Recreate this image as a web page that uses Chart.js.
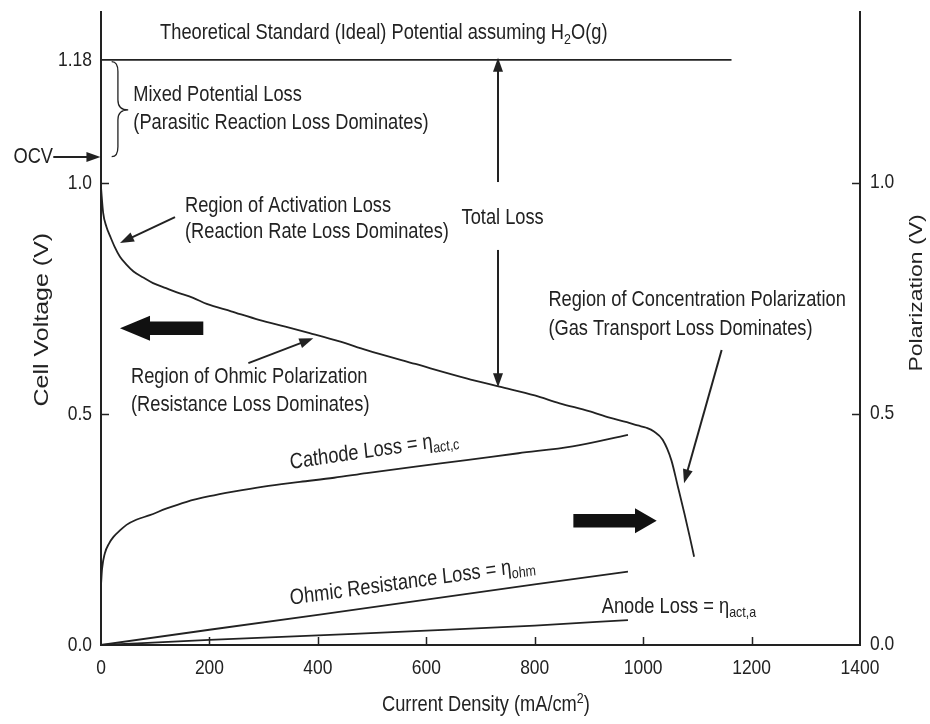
<!DOCTYPE html>
<html>
<head>
<meta charset="utf-8">
<script src="https://cdn.jsdelivr.net/npm/chart.js@4.4.1/dist/chart.umd.min.js"></script>
<style>
html, body { margin: 0; padding: 0; background: #ffffff; }
canvas { display: block; }
</style>
</head>
<body>
<canvas id="c" width="930" height="724" style="width:930px;height:724px"></canvas>
<script>
// ---------------- data ----------------
const currentDensity = [0, 4, 10, 17, 25, 35, 47, 60, 78, 96, 120, 140, 170, 195, 240, 293, 340, 385, 440, 490, 580, 674, 735, 800, 846, 900, 938, 970, 990, 1006, 1020, 1036, 1052, 1064, 1076, 1086, 1094];
const cellVoltage    = [0.99, 0.935, 0.905, 0.884, 0.862, 0.840, 0.823, 0.808, 0.795, 0.783, 0.772, 0.763, 0.751, 0.738, 0.722, 0.703, 0.689, 0.675, 0.657, 0.638, 0.608, 0.577, 0.559, 0.540, 0.523, 0.506, 0.492, 0.482, 0.475, 0.470, 0.462, 0.444, 0.400, 0.343, 0.285, 0.234, 0.191];

const idealCurrent   = [0, 1163];
const idealPotential = [1.18, 1.18];

const cathodeCurrent = [0, 2, 7, 15, 23, 35, 47, 65, 90, 120, 158, 200, 244, 300, 367, 430, 490, 580, 674, 770, 870, 972];
const cathodeLoss    = [0.13, 0.165, 0.198, 0.220, 0.234, 0.248, 0.260, 0.271, 0.281, 0.295, 0.310, 0.322, 0.332, 0.343, 0.353, 0.362, 0.372, 0.386, 0.400, 0.415, 0.430, 0.455];

const ohmicCurrent   = [0, 200, 400, 600, 800, 972];
const ohmicLoss      = [0, 0.033, 0.065, 0.098, 0.131, 0.159];

const anodeCurrent   = [0, 200, 400, 600, 800, 972];
const anodeLoss      = [0, 0.011, 0.021, 0.031, 0.042, 0.054];

const xTickValues            = [0, 200, 400, 600, 800, 1000, 1200, 1400];
const voltageTickValues      = [0, 0.5, 1.0, 1.18];
const polarizationTickValues = [0, 0.5, 1.0];

// the schematic's voltage axis is drawn stretched above 1.0 V
const voltageBreak   = 1.0;
const voltageStretch = 1.478;

// ---------------- styles ----------------
const INK = '#222222';
const FAMILY = '"Liberation Sans", Arial, sans-serif';
const COND = 0.83;          // the figure's lettering is horizontally condensed
const NOTE_SIZE = 22;
const TICK_SIZE = 21;
const fontStr = (size) => `${size}px ${FAMILY}`;

const fmtX  = v => String(v);
const fmtV  = v => (v === 1.18 ? '1.18' : v.toFixed(1));
const fmtP  = v => v.toFixed(1);

// ---------------- custom scale: linear with a stretched top part ----------------
class StretchedLinearScale extends Chart.LinearScale {
  toLin(v) { return v <= voltageBreak ? v : voltageBreak + (v - voltageBreak) * voltageStretch; }
  fromLin(l) { return l <= voltageBreak ? l : voltageBreak + (l - voltageBreak) / voltageStretch; }
  getPixelForValue(value) {
    if (value === null || value === undefined || isNaN(value)) return NaN;
    const a = this.toLin(this.min), b = this.toLin(this.max);
    return this.getPixelForDecimal((this.toLin(value) - a) / (b - a));
  }
  getValueForPixel(pixel) {
    const a = this.toLin(this.min), b = this.toLin(this.max);
    return this.fromLin(a + this.getDecimalForPixel(pixel) * (b - a));
  }
}
StretchedLinearScale.id = 'stretchedLinear';
StretchedLinearScale.defaults = Chart.LinearScale.defaults;
Chart.register(StretchedLinearScale);

// ---------------- annotations (in x / polarization-axis units) ----------------
const textNotes = [
  { segs: [{ t: 'Theoretical Standard (Ideal) Potential assuming H' }, { t: '2', sub: true }, { t: 'O(g)' }], x: 109, y: 1.324 },
  { segs: [{ t: 'Mixed Potential Loss' }], x: 59.6, y: 1.190 },
  { segs: [{ t: '(Parasitic Reaction Loss Dominates)' }], x: 59.6, y: 1.129 },
  { segs: [{ t: 'OCV' }], x: -88.5, y: 1.056, align: 'right' },
  { segs: [{ t: 'Region of Activation Loss' }], x: 155, y: 0.950 },
  { segs: [{ t: '(Reaction Rate Loss Dominates)' }], x: 155, y: 0.893 },
  { segs: [{ t: 'Total Loss' }], x: 665, y: 0.925 },
  { segs: [{ t: 'Region of Ohmic Polarization' }], x: 55.3, y: 0.581 },
  { segs: [{ t: '(Resistance Loss Dominates)' }], x: 55.3, y: 0.519 },
  { segs: [{ t: 'Region of Concentration Polarization' }], x: 825.2, y: 0.747 },
  { segs: [{ t: '(Gas Transport Loss Dominates)' }], x: 825.2, y: 0.685 },
  { segs: [{ t: 'Anode Loss = η' }, { t: 'act,a', sub: true }], x: 923.6, y: 0.083 },
  { segs: [{ t: 'Cathode Loss = η' }, { t: 'act,c', sub: true }], x: 348.6, y: 0.394, along: 2 },
  { segs: [{ t: 'Ohmic Resistance Loss = η' }, { t: 'ohm', sub: true }], x: 348.6, y: 0.100, along: 3 },
  // axis titles
  { segs: [{ t: 'Current Density (mA/cm' }, { t: '2', sup: true }, { t: ')' }], x: 710, y: -0.130, align: 'center' },
  { segs: [{ t: 'Cell Voltage (V)' }], x: -109, y: 0.704, align: 'center', rotate: -90, size: 25 },
  { segs: [{ t: 'Polarization (V)' }], x: 1505, y: 0.762, align: 'center', rotate: -90, size: 23 }
];

const lineArrows = [
  { from: [-88, 1.056], to: [-1, 1.056] },
  { from: [136.5, 0.926], to: [35, 0.870] },
  { from: [732.3, 1.002], to: [732.3, 1.271] },
  { from: [732.3, 0.855], to: [732.3, 0.558] },
  { from: [271.8, 0.610], to: [391.6, 0.664] },
  { from: [1144.8, 0.6385], to: [1075.4, 0.350] }
];

const blockArrows = [
  { tail: 188.7, headBase: 90.4, tip: 35, y: 0.6855, body: 0.0145, head: 0.027 },
  { tail: 871.3, headBase: 985, tip: 1025, y: 0.269, body: 0.0145, head: 0.027 }
];

const brace = { endX: 19.7, spineX: 31.2, tipX: 50.2, top: 1.2626, mid: 1.158, bottom: 1.0569 };

function drawRich(ctx, segs, size, align) {
  const small = Math.round(size * 0.68);
  const widths = segs.map(s => { ctx.font = fontStr(s.sub || s.sup ? small : size); return ctx.measureText(s.t).width; });
  const total = widths.reduce((a, b) => a + b, 0);
  let cx = align === 'center' ? -total / 2 : align === 'right' ? -total : 0;
  ctx.textAlign = 'left';
  ctx.textBaseline = 'middle';
  segs.forEach((s, i) => {
    ctx.font = fontStr(s.sub || s.sup ? small : size);
    const dy = s.sub ? size * 0.3 : s.sup ? -size * 0.3 : 0;
    ctx.fillText(s.t, cx, dy);
    cx += widths[i];
  });
}

// condensed text at a pixel position
function condText(ctx, str, px, py, size, align, angle) {
  ctx.save();
  ctx.translate(px, py);
  ctx.scale(COND, 1);
  if (angle) ctx.rotate(angle);
  drawRich(ctx, [{ t: str }], size, align);
  ctx.restore();
}

function head(ctx, x1, y1, x2, y2, len, half) {
  const a = Math.atan2(y2 - y1, x2 - x1);
  ctx.beginPath();
  ctx.moveTo(x2, y2);
  ctx.lineTo(x2 - len * Math.cos(a) + half * Math.sin(a), y2 - len * Math.sin(a) - half * Math.cos(a));
  ctx.lineTo(x2 - len * Math.cos(a) - half * Math.sin(a), y2 - len * Math.sin(a) + half * Math.cos(a));
  ctx.closePath();
  ctx.fill();
}

const labelOf = (t, fmt) => (typeof t.label === 'string' && t.label !== '' ? t.label : fmt(t.value));

const annotationPlugin = {
  id: 'schematicNotes',
  afterDraw(chart) {
    const { ctx, chartArea: area, scales } = chart;
    const X = v => scales.x.getPixelForValue(v);
    const Y = v => scales.y2.getPixelForValue(v);
    ctx.save();
    ctx.fillStyle = INK;
    ctx.strokeStyle = INK;

    // inward tick marks
    ctx.lineWidth = 1.5;
    ctx.beginPath();
    scales.x.ticks.forEach(t => {
      if (t.value <= scales.x.min || t.value >= scales.x.max) return;
      const px = Math.round(X(t.value)) + 0.5;
      ctx.moveTo(px, area.bottom); ctx.lineTo(px, area.bottom - 8);
    });
    scales.y.ticks.forEach(t => {
      if (t.value <= 0 || t.value > voltageBreak) return;
      const py = Math.round(scales.y.getPixelForValue(t.value)) + 0.5;
      ctx.moveTo(area.left, py); ctx.lineTo(area.left + 8, py);
    });
    scales.y2.ticks.forEach(t => {
      if (t.value <= 0) return;
      const py = Math.round(Y(t.value)) + 0.5;
      ctx.moveTo(area.right, py); ctx.lineTo(area.right - 8, py);
    });
    ctx.stroke();

    // tick labels (from the scales' own ticks)
    ctx.fillStyle = INK;
    scales.x.ticks.forEach(t => condText(ctx, labelOf(t, fmtX), X(t.value), area.bottom + 23, TICK_SIZE, 'center'));
    scales.y.ticks.forEach(t => condText(ctx, labelOf(t, fmtV), area.left - 9, scales.y.getPixelForValue(t.value), TICK_SIZE, 'right'));
    scales.y2.ticks.forEach(t => condText(ctx, labelOf(t, fmtP), area.right + 10, Y(t.value) - 1, TICK_SIZE, 'left'));

    // brace
    ctx.lineWidth = 1.3;
    const r = 10;
    const ex = X(brace.endX), sx = X(brace.spineX), tx = X(brace.tipX);
    const ty = Y(brace.top), my = Y(brace.mid), by = Y(brace.bottom);
    ctx.beginPath();
    ctx.moveTo(ex, ty);
    ctx.quadraticCurveTo(sx, ty, sx, ty + r);
    ctx.lineTo(sx, my - r);
    ctx.quadraticCurveTo(sx, my, tx, my);
    ctx.quadraticCurveTo(sx, my, sx, my + r);
    ctx.lineTo(sx, by - r);
    ctx.quadraticCurveTo(sx, by, ex, by);
    ctx.stroke();

    // line arrows
    ctx.lineWidth = 2;
    lineArrows.forEach(a => {
      const x1 = X(a.from[0]), y1 = Y(a.from[1]), x2 = X(a.to[0]), y2 = Y(a.to[1]);
      const ang = Math.atan2(y2 - y1, x2 - x1);
      ctx.beginPath();
      ctx.moveTo(x1, y1);
      ctx.lineTo(x2 - 8 * Math.cos(ang), y2 - 8 * Math.sin(ang));
      ctx.stroke();
      head(ctx, x1, y1, x2, y2, 14, 5);
    });

    // block arrows
    ctx.fillStyle = '#111';
    blockArrows.forEach(b => {
      const t = X(b.tail), hb = X(b.headBase), tp = X(b.tip), cy = Y(b.y);
      const bh = Y(b.y - b.body) - cy, hh = Y(b.y - b.head) - cy;
      ctx.beginPath();
      ctx.moveTo(t, cy - bh);
      ctx.lineTo(hb, cy - bh);
      ctx.lineTo(hb, cy - hh);
      ctx.lineTo(tp, cy);
      ctx.lineTo(hb, cy + hh);
      ctx.lineTo(hb, cy + bh);
      ctx.lineTo(t, cy + bh);
      ctx.closePath();
      ctx.fill();
    });

    // notes and titles
    ctx.fillStyle = INK;
    textNotes.forEach(n => {
      ctx.save();
      ctx.translate(X(n.x), Y(n.y));
      ctx.scale(COND, 1);
      if (n.along !== undefined) {
        const meta = chart.getDatasetMeta(n.along);
        const p0 = meta.data[Math.floor(meta.data.length / 2)], p1 = meta.data[meta.data.length - 1];
        ctx.rotate(Math.atan2(p1.y - p0.y, (p1.x - p0.x) / COND));
      } else if (n.rotate) {
        ctx.rotate(n.rotate * Math.PI / 180);
      }
      drawRich(ctx, n.segs, n.size || NOTE_SIZE, n.align || 'left');
      ctx.restore();
    });
    ctx.restore();
  }
};

const toXY = (xs, ys) => xs.map((x, i) => ({ x, y: ys[i] }));
const lineStyle = { borderColor: INK, backgroundColor: INK, borderWidth: 1.8, pointRadius: 0, showLine: true, fill: false };
const hiddenTicks = { display: false, autoSkip: false };

new Chart(document.getElementById('c'), {
  type: 'scatter',
  data: {
    datasets: [
      { label: 'Cell voltage', data: toXY(currentDensity, cellVoltage), yAxisID: 'y', cubicInterpolationMode: 'monotone', ...lineStyle },
      { label: 'Theoretical standard potential', data: toXY(idealCurrent, idealPotential), yAxisID: 'y', ...lineStyle },
      { label: 'Cathode loss', data: toXY(cathodeCurrent, cathodeLoss), yAxisID: 'y2', cubicInterpolationMode: 'monotone', ...lineStyle },
      { label: 'Ohmic resistance loss', data: toXY(ohmicCurrent, ohmicLoss), yAxisID: 'y2', ...lineStyle },
      { label: 'Anode loss', data: toXY(anodeCurrent, anodeLoss), yAxisID: 'y2', cubicInterpolationMode: 'monotone', ...lineStyle }
    ]
  },
  options: {
    responsive: false,
    animation: false,
    devicePixelRatio: 1,
    layout: { padding: { top: 12, left: 0, right: 0, bottom: 0 } },
    plugins: { legend: { display: false }, tooltip: { enabled: false } },
    scales: {
      x: {
        type: 'linear', position: 'bottom', min: 0, max: 1400,
        afterBuildTicks: s => { s.ticks = xTickValues.map(v => ({ value: v })); },
        afterFit: s => { s.height = 79; s.paddingLeft = 0; s.paddingRight = 0; },
        ticks: { ...hiddenTicks, callback: fmtX },
        grid: { display: false, drawTicks: false },
        border: { display: true, color: INK, width: 2 },
        title: { display: false, text: 'Current Density (mA/cm²)' }
      },
      y: {
        type: 'stretchedLinear', position: 'left', min: 0, max: 1.25,
        afterBuildTicks: s => { s.ticks = voltageTickValues.map(v => ({ value: v })); },
        afterFit: s => { s.width = 101; s.paddingTop = 0; s.paddingBottom = 0; },
        ticks: { ...hiddenTicks, callback: fmtV },
        grid: { display: false, drawTicks: false },
        border: { display: true, color: INK, width: 2 },
        title: { display: false, text: 'Cell Voltage (V)' }
      },
      y2: {
        type: 'linear', position: 'right', min: 0, max: 1.37,
        afterBuildTicks: s => { s.ticks = polarizationTickValues.map(v => ({ value: v })); },
        afterFit: s => { s.width = 70; s.paddingTop = 0; s.paddingBottom = 0; },
        ticks: { ...hiddenTicks, callback: fmtP },
        grid: { display: false, drawTicks: false },
        border: { display: true, color: INK, width: 2 },
        title: { display: false, text: 'Polarization (V)' }
      }
    }
  },
  plugins: [annotationPlugin]
});
</script>
</body>
</html>
